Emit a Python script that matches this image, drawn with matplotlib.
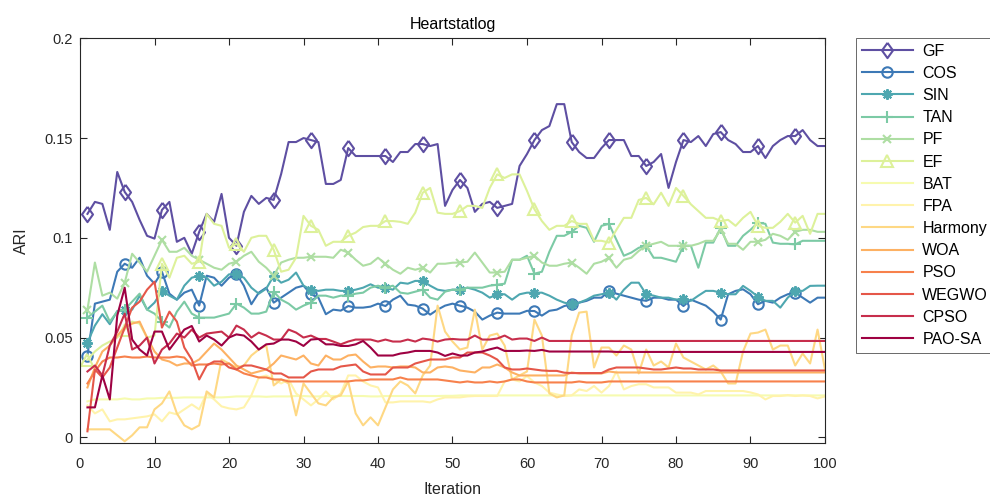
import numpy as np
import matplotlib
matplotlib.use("Agg")
import matplotlib.pyplot as plt
from matplotlib.lines import Line2D

plt.rcParams['font.family'] = ['Liberation Sans', 'DejaVu Sans']

iterations = np.arange(1, 101)

names = ["GF", "COS", "SIN", "TAN", "PF", "EF", "BAT", "FPA", "Harmony",
         "WOA", "PSO", "WEGWO", "CPSO", "PAO-SA"]

gf = [0.112, 0.118, 0.117, 0.104, 0.133, 0.123, 0.118, 0.109, 0.101, 0.0996,
      0.114, 0.118, 0.098, 0.100, 0.092, 0.103, 0.112, 0.108, 0.122, 0.100,
      0.096, 0.113, 0.121, 0.117, 0.120, 0.119, 0.132, 0.148, 0.148, 0.150,
      0.149, 0.148, 0.127, 0.127, 0.129, 0.145, 0.141, 0.141, 0.141, 0.141,
      0.141, 0.138, 0.143, 0.143, 0.147, 0.147, 0.146, 0.147, 0.116, 0.124,
      0.129, 0.125, 0.113, 0.117, 0.118, 0.115, 0.116, 0.117, 0.136, 0.142,
      0.149, 0.154, 0.156, 0.167, 0.167, 0.148, 0.143, 0.140, 0.140, 0.145,
      0.149, 0.149, 0.149, 0.141, 0.141, 0.136, 0.138, 0.142, 0.125, 0.138,
      0.149, 0.148, 0.151, 0.146, 0.152, 0.153, 0.149, 0.147, 0.143, 0.143,
      0.146, 0.140, 0.146, 0.149, 0.151, 0.151, 0.154, 0.149, 0.146, 0.146]

cos_ = [0.041, 0.067, 0.068, 0.069, 0.083, 0.087, 0.085, 0.090, 0.081, 0.077,
        0.083, 0.072, 0.069, 0.0725, 0.074, 0.066, 0.081, 0.080, 0.076, 0.080,
        0.082, 0.076, 0.0667, 0.0725, 0.075, 0.0675, 0.070, 0.0725, 0.075, 0.076,
        0.0717, 0.070, 0.0617, 0.064, 0.0635, 0.0658, 0.065, 0.065, 0.0655, 0.067,
        0.0658, 0.069, 0.071, 0.0665, 0.066, 0.0645, 0.0615, 0.064, 0.066, 0.067,
        0.066, 0.065, 0.063, 0.059, 0.061, 0.0625, 0.062, 0.062, 0.062, 0.0634,
        0.0633, 0.061, 0.0634, 0.064, 0.0658, 0.0667, 0.0675, 0.0684, 0.070, 0.070,
        0.0734, 0.072, 0.071, 0.070, 0.069, 0.0684, 0.070, 0.070, 0.069, 0.069,
        0.0658, 0.069, 0.0675, 0.066, 0.063, 0.059, 0.0717, 0.0734, 0.0742, 0.0717,
        0.0667, 0.0684, 0.0675, 0.070, 0.0717, 0.0725, 0.070, 0.0675, 0.070, 0.070]

sin_ = [0.0475, 0.056, 0.0617, 0.0567, 0.0633, 0.064, 0.064, 0.071, 0.064, 0.0675,
        0.0734, 0.071, 0.069, 0.076, 0.080, 0.081, 0.080, 0.076, 0.078, 0.0817,
        0.0817, 0.080, 0.075, 0.072, 0.0745, 0.081, 0.0775, 0.079, 0.0826, 0.076,
        0.074, 0.0734, 0.074, 0.074, 0.0734, 0.0734, 0.074, 0.075, 0.0767, 0.075,
        0.075, 0.074, 0.0775, 0.077, 0.0784, 0.0784, 0.076, 0.074, 0.0734, 0.074,
        0.074, 0.075, 0.074, 0.0725, 0.070, 0.0717, 0.0717, 0.069, 0.0717, 0.0725,
        0.0725, 0.0725, 0.071, 0.069, 0.0675, 0.0667, 0.0675, 0.069, 0.071, 0.0717,
        0.0725, 0.069, 0.074, 0.0775, 0.0775, 0.0717, 0.071, 0.070, 0.070, 0.069,
        0.0695, 0.0684, 0.071, 0.0734, 0.0734, 0.0725, 0.0717, 0.0717, 0.0759, 0.0734,
        0.0705, 0.0684, 0.0684, 0.065, 0.070, 0.0734, 0.0734, 0.0759, 0.076, 0.076]

tan_ = [0.060, 0.063, 0.066, 0.058, 0.063, 0.064, 0.068, 0.072, 0.064, 0.062,
        0.058, 0.055, 0.063, 0.068, 0.062, 0.060, 0.060, 0.060, 0.061, 0.062,
        0.067, 0.065, 0.062, 0.062, 0.063, 0.073, 0.069, 0.067, 0.064, 0.066,
        0.0675, 0.071, 0.071, 0.070, 0.071, 0.071, 0.072, 0.0725, 0.075, 0.076,
        0.075, 0.076, 0.0725, 0.072, 0.073, 0.074, 0.070, 0.069, 0.073, 0.074,
        0.074, 0.075, 0.075, 0.075, 0.076, 0.0765, 0.077, 0.089, 0.089, 0.091,
        0.082, 0.083, 0.093, 0.101, 0.101, 0.103, 0.106, 0.105, 0.098, 0.106,
        0.107, 0.099, 0.091, 0.0926, 0.095, 0.096, 0.090, 0.090, 0.089, 0.088,
        0.096, 0.096, 0.085, 0.0976, 0.0976, 0.105, 0.096, 0.096, 0.101, 0.104,
        0.1076, 0.107, 0.0976, 0.097, 0.097, 0.0967, 0.0985, 0.0985, 0.0985, 0.0985]

pf = [0.064, 0.0876, 0.071, 0.0725, 0.0695, 0.0775, 0.092, 0.0876, 0.083, 0.091,
      0.099, 0.093, 0.093, 0.095, 0.091, 0.089, 0.087, 0.085, 0.084, 0.087,
      0.088, 0.091, 0.093, 0.088, 0.085, 0.081, 0.0876, 0.089, 0.090, 0.090,
      0.0905, 0.0905, 0.0905, 0.090, 0.094, 0.0926, 0.089, 0.086, 0.087, 0.090,
      0.087, 0.084, 0.082, 0.085, 0.084, 0.085, 0.0826, 0.087, 0.087, 0.0875,
      0.0876, 0.088, 0.0926, 0.0876, 0.0826, 0.0826, 0.083, 0.089, 0.089, 0.090,
      0.091, 0.0876, 0.086, 0.086, 0.087, 0.0876, 0.085, 0.082, 0.087, 0.088,
      0.090, 0.085, 0.089, 0.090, 0.0934, 0.096, 0.097, 0.098, 0.096, 0.096,
      0.096, 0.096, 0.097, 0.0985, 0.0985, 0.104, 0.097, 0.097, 0.094, 0.098,
      0.098, 0.099, 0.102, 0.101, 0.099, 0.103, 0.104, 0.104, 0.103, 0.103]

ef = [0.039, 0.043, 0.046, 0.048, 0.050, 0.054, 0.058, 0.057, 0.050, 0.051,
      0.087, 0.080, 0.090, 0.091, 0.087, 0.088, 0.112, 0.107, 0.106, 0.095,
      0.097, 0.093, 0.100, 0.101, 0.101, 0.094, 0.083, 0.084, 0.090, 0.111,
      0.106, 0.104, 0.096, 0.098, 0.098, 0.101, 0.1026, 0.1054, 0.106, 0.106,
      0.1084, 0.1084, 0.108, 0.107, 0.1126, 0.1226, 0.125, 0.1126, 0.112, 0.112,
      0.1134, 0.116, 0.116, 0.115, 0.125, 0.1318, 0.130, 0.1318, 0.1318, 0.1235,
      0.1143, 0.1084, 0.104, 0.106, 0.106, 0.1084, 0.107, 0.107, 0.0985, 0.0985,
      0.0976, 0.104, 0.110, 0.110, 0.119, 0.120, 0.1168, 0.1226, 0.116, 0.125,
      0.121, 0.1168, 0.1134, 0.110, 0.110, 0.1084, 0.109, 0.106, 0.110, 0.113,
      0.106, 0.105, 0.105, 0.108, 0.112, 0.1076, 0.111, 0.102, 0.112, 0.112]

bat = [0.018, 0.019, 0.019, 0.019, 0.019, 0.0195, 0.019, 0.019, 0.0195, 0.0195,
       0.0198, 0.0198, 0.0198, 0.020, 0.020, 0.020, 0.020, 0.020, 0.020, 0.0202,
       0.0205, 0.0205, 0.0205, 0.0205, 0.0203, 0.0205, 0.0205, 0.0205, 0.0207, 0.0207,
       0.0205, 0.0205, 0.0207, 0.0207, 0.0207, 0.0207, 0.0207, 0.0207, 0.0205, 0.0205,
       0.0207, 0.0207, 0.0207, 0.0207, 0.0207, 0.0207, 0.0207, 0.0207, 0.0208, 0.0208,
       0.021, 0.021, 0.021, 0.021, 0.021, 0.021, 0.021, 0.021, 0.021, 0.021,
       0.021, 0.021, 0.021, 0.021, 0.021, 0.021, 0.021, 0.021, 0.021, 0.021,
       0.021, 0.021, 0.021, 0.021, 0.021, 0.021, 0.021, 0.021, 0.021, 0.021,
       0.021, 0.021, 0.021, 0.021, 0.021, 0.021, 0.021, 0.021, 0.021, 0.021,
       0.021, 0.021, 0.021, 0.021, 0.021, 0.021, 0.021, 0.021, 0.021, 0.021]

fpa = [0.016, 0.012, 0.014, 0.008, 0.009, 0.009, 0.0095, 0.010, 0.0105, 0.0115,
       0.008, 0.0125, 0.0115, 0.014, 0.0165, 0.014, 0.022, 0.019, 0.0155, 0.0145,
       0.014, 0.015, 0.021, 0.030, 0.031, 0.029, 0.027, 0.029, 0.022, 0.019,
       0.016, 0.019, 0.023, 0.019, 0.022, 0.031, 0.031, 0.028, 0.026, 0.025,
       0.0175, 0.0175, 0.018, 0.018, 0.018, 0.018, 0.0175, 0.019, 0.020, 0.020,
       0.020, 0.0205, 0.0207, 0.0207, 0.0207, 0.0207, 0.028, 0.029, 0.028, 0.0307,
       0.0275, 0.0257, 0.0224, 0.0215, 0.0207, 0.021, 0.024, 0.0232, 0.0257, 0.0224,
       0.0257, 0.033, 0.024, 0.0257, 0.0266, 0.0266, 0.025, 0.025, 0.025, 0.0224,
       0.0224, 0.0224, 0.0215, 0.0232, 0.0232, 0.0232, 0.0232, 0.0232, 0.0232, 0.0225,
       0.0215, 0.019, 0.0207, 0.0207, 0.0212, 0.0207, 0.021, 0.0207, 0.0195, 0.0205]

harmony = [0.004, 0.004, 0.004, 0.004, 0.001, -0.002, 0.001, 0.005, 0.005, 0.014,
           0.017, 0.023, 0.012, 0.006, 0.004, 0.006, 0.023, 0.020, 0.039, 0.037,
           0.035, 0.036, 0.041, 0.044, 0.046, 0.026, 0.029, 0.027, 0.011, 0.027,
           0.022, 0.017, 0.016, 0.020, 0.021, 0.028, 0.012, 0.006, 0.010, 0.006,
           0.015, 0.024, 0.028, 0.026, 0.022, 0.031, 0.036, 0.066, 0.053, 0.048,
           0.044, 0.045, 0.064, 0.044, 0.051, 0.052, 0.046, 0.029, 0.031, 0.033,
           0.059, 0.051, 0.022, 0.020, 0.021, 0.051, 0.0625, 0.063, 0.035, 0.045,
           0.045, 0.041, 0.046, 0.044, 0.032, 0.044, 0.036, 0.038, 0.035, 0.047,
           0.040, 0.038, 0.036, 0.034, 0.036, 0.033, 0.027, 0.027, 0.043, 0.052,
           0.0525, 0.054, 0.044, 0.046, 0.046, 0.036, 0.042, 0.037, 0.054, 0.034]

woa = [0.025, 0.035, 0.043, 0.046, 0.051, 0.055, 0.057, 0.058, 0.050, 0.043,
       0.039, 0.038, 0.036, 0.037, 0.037, 0.039, 0.043, 0.047, 0.044, 0.040,
       0.036, 0.034, 0.032, 0.033, 0.034, 0.037, 0.041, 0.040, 0.039, 0.041,
       0.037, 0.036, 0.041, 0.039, 0.039, 0.041, 0.0415, 0.038, 0.035, 0.0355,
       0.0355, 0.035, 0.0355, 0.0355, 0.035, 0.0325, 0.0325, 0.035, 0.0355, 0.035,
       0.0335, 0.033, 0.0325, 0.035, 0.035, 0.0365, 0.035, 0.0325, 0.031, 0.031,
       0.031, 0.031, 0.031, 0.031, 0.031, 0.0325, 0.032, 0.032, 0.032, 0.032,
       0.033, 0.0325, 0.0325, 0.0325, 0.0325, 0.0325, 0.0325, 0.0325, 0.0325, 0.0325,
       0.0325, 0.0325, 0.0325, 0.0325, 0.0325, 0.0325, 0.0325, 0.0325, 0.0325, 0.0325,
       0.0325, 0.0325, 0.0325, 0.0325, 0.0325, 0.0325, 0.0325, 0.0325, 0.0325, 0.0325]

pso = [0.027, 0.033, 0.038, 0.040, 0.040, 0.0405, 0.040, 0.040, 0.0405, 0.040,
       0.040, 0.040, 0.0405, 0.040, 0.036, 0.0365, 0.0365, 0.037, 0.0365, 0.037,
       0.034, 0.032, 0.031, 0.030, 0.030, 0.029, 0.029, 0.028, 0.028, 0.028,
       0.028, 0.028, 0.028, 0.028, 0.028, 0.028, 0.0285, 0.0285, 0.029, 0.029,
       0.029, 0.029, 0.030, 0.029, 0.029, 0.029, 0.029, 0.029, 0.0285, 0.028,
       0.0275, 0.028, 0.0275, 0.0275, 0.028, 0.0275, 0.028, 0.029, 0.029, 0.028,
       0.0275, 0.0275, 0.0275, 0.0275, 0.0275, 0.0275, 0.028, 0.0275, 0.0275, 0.0275,
       0.028, 0.028, 0.028, 0.028, 0.028, 0.028, 0.028, 0.028, 0.028, 0.028,
       0.028, 0.028, 0.028, 0.028, 0.028, 0.028, 0.028, 0.028, 0.028, 0.028,
       0.028, 0.028, 0.028, 0.028, 0.028, 0.028, 0.028, 0.028, 0.028, 0.028]

wegwo = [0.003, 0.034, 0.030, 0.035, 0.045, 0.055, 0.065, 0.068, 0.074, 0.078,
         0.055, 0.063, 0.058, 0.045, 0.039, 0.029, 0.036, 0.038, 0.038, 0.035,
         0.034, 0.036, 0.036, 0.035, 0.034, 0.032, 0.032, 0.030, 0.030, 0.030,
         0.033, 0.034, 0.034, 0.034, 0.0355, 0.036, 0.0365, 0.033, 0.0315, 0.0315,
         0.0315, 0.035, 0.035, 0.035, 0.037, 0.038, 0.039, 0.039, 0.039, 0.040,
         0.040, 0.0425, 0.0425, 0.0425, 0.041, 0.039, 0.035, 0.034, 0.034, 0.0345,
         0.034, 0.0335, 0.0333, 0.0333, 0.0324, 0.0322, 0.0322, 0.0322, 0.0322, 0.0322,
         0.034, 0.035, 0.035, 0.035, 0.035, 0.0345, 0.034, 0.034, 0.0345, 0.035,
         0.0345, 0.0345, 0.034, 0.034, 0.034, 0.0335, 0.0335, 0.0335, 0.0335, 0.0335,
         0.0335, 0.0335, 0.0335, 0.0335, 0.0335, 0.0335, 0.0335, 0.0335, 0.0335, 0.0335]

cpso = [0.033, 0.036, 0.031, 0.046, 0.053, 0.062, 0.044, 0.046, 0.050, 0.037,
        0.044, 0.047, 0.052, 0.050, 0.054, 0.050, 0.052, 0.0525, 0.053, 0.050,
        0.056, 0.054, 0.050, 0.0525, 0.051, 0.049, 0.049, 0.054, 0.0525, 0.050,
        0.051, 0.0493, 0.0493, 0.048, 0.0466, 0.048, 0.049, 0.049, 0.049, 0.048,
        0.049, 0.048, 0.048, 0.049, 0.048, 0.0495, 0.049, 0.048, 0.049, 0.0493,
        0.049, 0.049, 0.051, 0.049, 0.049, 0.0495, 0.051, 0.049, 0.0495, 0.0495,
        0.0483, 0.050, 0.0483, 0.0483, 0.0483, 0.0483, 0.0483, 0.0483, 0.0483, 0.0483,
        0.0483, 0.0483, 0.0483, 0.0483, 0.0483, 0.0483, 0.0483, 0.0483, 0.0483, 0.0483,
        0.0483, 0.0483, 0.0483, 0.0483, 0.0483, 0.0483, 0.0483, 0.0483, 0.0483, 0.0483,
        0.0483, 0.0483, 0.0483, 0.0483, 0.0483, 0.0483, 0.0483, 0.0483, 0.0483, 0.0483]

pao_sa = [0.015, 0.015, 0.031, 0.019, 0.061, 0.075, 0.049, 0.044, 0.041, 0.053,
          0.053, 0.044, 0.049, 0.054, 0.0558, 0.048, 0.051, 0.049, 0.046, 0.050,
          0.0516, 0.051, 0.048, 0.044, 0.0466, 0.047, 0.049, 0.049, 0.048, 0.0458,
          0.049, 0.0493, 0.0466, 0.0466, 0.0458, 0.0458, 0.0466, 0.0483, 0.045, 0.041,
          0.041, 0.041, 0.042, 0.0425, 0.0433, 0.0433, 0.0433, 0.0425, 0.0408, 0.042,
          0.041, 0.041, 0.0425, 0.043, 0.0441, 0.045, 0.0433, 0.0433, 0.0433, 0.0435,
          0.0433, 0.0438, 0.043, 0.043, 0.043, 0.043, 0.043, 0.043, 0.043, 0.043,
          0.043, 0.0428, 0.0428, 0.0428, 0.0428, 0.0428, 0.0428, 0.0428, 0.0428, 0.0428,
          0.0428, 0.0428, 0.0428, 0.0428, 0.0428, 0.0428, 0.0428, 0.0428, 0.0428, 0.0428,
          0.0428, 0.0428, 0.0428, 0.0428, 0.0428, 0.0428, 0.0428, 0.0428, 0.0428, 0.0428]

series = [gf, cos_, sin_, tan_, pf, ef, bat, fpa, harmony,
          woa, pso, wegwo, cpso, pao_sa]

# open diamond slightly narrower than it is tall
diamond = [(0, 1), (0.72, 0), (0, -1), (-0.72, 0), (0, 1)]

# marker, marker size per method (plain lines for the last eight)
marker_styles = [(diamond, 11.0), ('o', 7.5), ((8, 2, 0), 7.5), ('+', 8.5),
                 ('x', 6.0), ('^', 8.5)] + [(None, 0)] * 8

colors = plt.cm.Spectral_r(np.linspace(0, 1, len(names)))
axis_color = '#262626'

fig = plt.figure(figsize=(9.9, 4.98), dpi=100)
ax = fig.add_axes([80 / 990, 54.7 / 498, 745 / 990, 405 / 498])

handles = []
for name, vals, col, (mk, ms) in zip(names, series, colors, marker_styles):
    ax.plot(iterations, vals, color=col, lw=1.5, marker=mk, ms=ms,
            mfc='none', mec=col, mew=1.5, markevery=(0, 5))
    handles.append(Line2D([], [], color=col, lw=1.5, marker=mk, ms=ms,
                          mfc='none', mec=col, mew=1.5, label=name))

ax.set_xlim(0, 100)
ax.set_ylim(-0.003, 0.2)
ax.set_xticks(np.arange(0, 101, 10))
ax.set_yticks([0, 0.05, 0.1, 0.15, 0.2])
ax.set_yticklabels(['0', '0.05', '0.1', '0.15', '0.2'])
ax.tick_params(direction='in', length=5, width=0.8, colors=axis_color,
               labelsize=10.5, top=True, right=True, pad=5)
ax.tick_params(axis='x', pad=10)
for s in ax.spines.values():
    s.set_color(axis_color)
    s.set_linewidth(0.8)

ax.set_title('Heartstatlog', fontsize=11.5, color='black', pad=7)
ax.set_xlabel('Iteration', fontsize=11.5, color=axis_color, labelpad=8)
ax.set_ylabel('ARI', fontsize=11.5, color=axis_color, labelpad=11)

leg = fig.legend(handles=handles, loc='upper left',
                 bbox_to_anchor=(856 / 990, 460 / 498), borderaxespad=0,
                 fontsize=11.5, handlelength=3.2, handletextpad=0.6,
                 labelspacing=0.45, borderpad=0.35, numpoints=1,
                 frameon=True, fancybox=False)
leg.get_frame().set_edgecolor(axis_color)
leg.get_frame().set_linewidth(0.6)

fig.savefig('out.png', dpi=100)
